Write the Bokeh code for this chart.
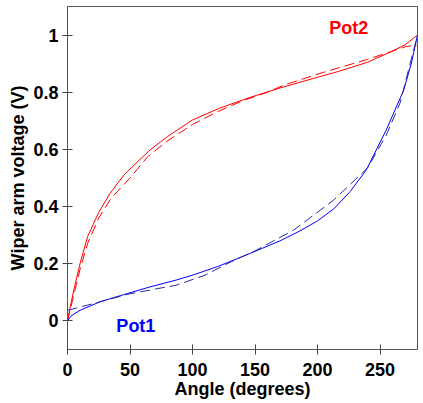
from bokeh.plotting import figure
from bokeh.models import Range1d, FixedTicker
from bokeh.core.properties import value
from bokeh.embed import file_html
from bokeh.resources import INLINE

# Pot2 (red)
pot2_x = [0, 2, 5, 10, 16, 25, 34, 45, 58, 66, 80, 100, 122, 146, 170, 194, 217, 240, 258, 270, 280]
pot2_y = [0, 0.045, 0.107, 0.2, 0.294, 0.38, 0.446, 0.51, 0.565, 0.598, 0.645, 0.703, 0.745, 0.782, 0.815, 0.845, 0.873, 0.905, 0.94, 0.966, 1.0]
pot2_fit_x = [0, 5, 10, 16, 25, 35, 50, 64, 80, 100, 120, 140, 160, 173, 205, 240, 271, 280]
pot2_fit_y = [0, 0.09, 0.18, 0.27, 0.36, 0.43, 0.50, 0.574, 0.63, 0.687, 0.732, 0.77, 0.80, 0.825, 0.87, 0.915, 0.96, 0.965]

# Pot1 (blue)
pot1_x = [0, 3, 10, 26, 48, 66, 87, 100, 120, 146, 170, 186, 200, 213, 226, 239, 255, 269, 275, 280]
pot1_y = [0, 0.018, 0.037, 0.067, 0.096, 0.119, 0.143, 0.16, 0.19, 0.236, 0.28, 0.315, 0.35, 0.392, 0.452, 0.528, 0.668, 0.808, 0.9, 1.0]
pot1_fit_x = [0, 21, 50, 72, 87, 110, 130, 150, 181, 213, 240, 255, 266, 280]
pot1_fit_y = [0.037, 0.061, 0.095, 0.113, 0.125, 0.16, 0.205, 0.245, 0.318, 0.423, 0.535, 0.65, 0.762, 1.0]

x_ticks = [0, 50, 100, 150, 200, 250]
y_ticks = [0, 0.2, 0.4, 0.6, 0.8, 1]

FONT = "Liberation Sans"

p = figure(width=423, height=403, output_backend="svg", toolbar_location=None,
           x_range=Range1d(0, 280), y_range=Range1d(-0.1, 1.1),
           min_border_left=67, min_border_right=6, min_border_top=6, min_border_bottom=54)
p.grid.visible = False
p.outline_line_color = "#555555"
p.outline_line_width = 1
p.background_fill_color = "white"
p.border_fill_color = "white"

for ax in (p.xaxis[0], p.yaxis[0]):
    ax.axis_line_color = "#555555"
    ax.major_tick_line_color = "#444444"
    ax.major_tick_in = 5
    ax.major_tick_out = 5
    ax.minor_tick_line_color = None
    ax.major_label_text_font = FONT
    ax.major_label_text_font_style = "bold"
    ax.major_label_text_font_size = "18px"
    ax.major_label_text_color = "black"
    ax.axis_label_text_font = FONT
    ax.axis_label_text_font_style = "bold"
    ax.axis_label_text_font_size = "18px"
    ax.axis_label_text_color = "black"

p.xaxis.ticker = FixedTicker(ticks=x_ticks)
p.yaxis.ticker = FixedTicker(ticks=y_ticks)
p.yaxis.major_label_overrides = {0: "0", 1: "1"}
p.xaxis.axis_label = "Angle (degrees)"
p.yaxis.axis_label = "Wiper arm voltage (V)"
p.xaxis.major_label_standoff = 8
p.yaxis.major_label_standoff = 4
p.xaxis.axis_label_standoff = 0
p.yaxis.axis_label_standoff = 2

p.line(pot2_x, pot2_y, line_color="#ff0000", line_width=1)
p.line(pot2_fit_x, pot2_fit_y, line_color="#ff0000", line_width=1, line_dash="10 5")
p.line(pot1_x, pot1_y, line_color="#0000ff", line_width=1)
p.line(pot1_fit_x, pot1_fit_y, line_color="#2a2a9a", line_width=1, line_dash="10 5")

p.text(x=[225], y=[1.025], text=["Pot2"], text_color="#ff0000", text_font=value(FONT),
       text_font_style="bold", text_font_size="18px", text_align="center", text_baseline="middle")
p.text(x=[54.7], y=[-0.019], text=["Pot1"], text_color="#0000ff", text_font=value(FONT),
       text_font_style="bold", text_font_size="18px", text_align="center", text_baseline="middle")

open("out.html", "w").write(file_html(p, INLINE))
